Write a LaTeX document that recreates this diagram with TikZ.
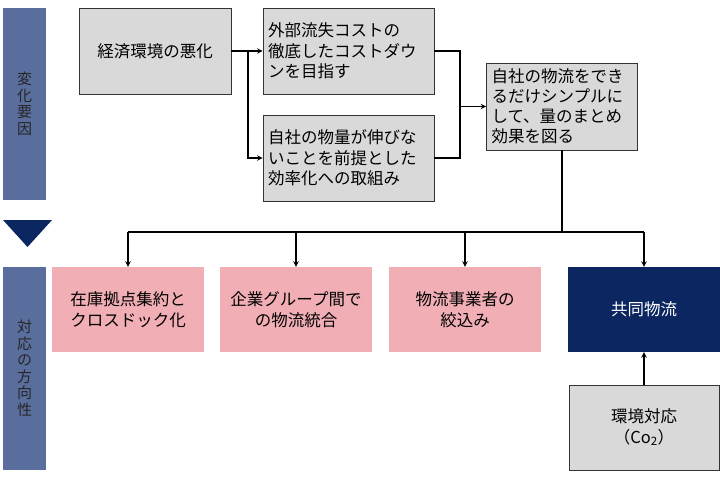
\documentclass[tikz,border=0pt]{standalone}
\usepackage{fontspec}
\setmainfont{Noto Sans CJK JP}
\usetikzlibrary{arrows}

\definecolor{barblue}{HTML}{5A6E9E}
\definecolor{navyblue}{HTML}{0B2660}
\definecolor{pinkfill}{HTML}{F1AFB5}
\definecolor{grayfill}{HTML}{D9D9D9}

\begin{document}
\begin{tikzpicture}[x=1pt, y=-1pt, >=stealth,
    sidebar/.style={fill=barblue, text=black!85, minimum width=43pt, align=center,
        font=\fontsize{15}{16.5}\selectfont},
    causebox/.style={draw=black!80, line width=0.8pt, fill=grayfill, minimum height=86pt,
        inner xsep=5pt, align=left, font=\fontsize{16.5}{20.5}\selectfont},
    actbox/.style={fill=pinkfill, minimum width=152pt, minimum height=85pt, align=center,
        font=\fontsize{16.5}{20.5}\selectfont},
    link/.style={line width=1.4pt}]
    \useasboundingbox (0,0) rectangle (720,480);

    % 左側の帯
    \node[sidebar, minimum height=192pt] (upper) at (24.5,104) {変\\化\\要\\因};
    \fill[navyblue] (3,220) -- (52,220) -- (27.5,247) -- cycle;
    \node[sidebar, minimum height=203pt] (lower) at (24.5,368.5) {対\\応\\の\\方\\向\\性};

    % 変化要因
    \node[causebox, minimum width=152pt, align=center] (econ) at (155,51) {経済環境の悪化};
    \node[causebox, text width=161pt] (cost) at (348.5,51) {外部流失コストの\\徹底したコストダウ\\ンを目指す};
    \node[causebox, text width=161pt] (volume) at (348.5,158) {自社の物量が伸びな\\いことを前提とした\\効率化への取組み};
    \node[causebox, text width=141pt, minimum height=87pt, font=\fontsize{16.5}{20}\selectfont] (simple) at (562,106.5)
        {自社の物流をでき\\るだけシンプルに\\して、量のまとめ\\効果を図る};

    % 対応の方向性
    \node[actbox] (stock) at (128,309.5) {在庫拠点集約と\\クロスドック化};
    \node[actbox] (group) at (296,309.5) {企業グループ間で\\の物流統合};
    \node[actbox] (carrier) at (465,309.5) {物流事業者の\\絞込み};
    \node[actbox, fill=navyblue, text=white] (joint) at (644,309.5) {共同物流};
    \node[causebox, minimum width=150pt, minimum height=85pt, align=center] (env) at (644,427.5)
        {環境対応\\（Co\textsubscript{2}）};

    % 連結線
    \coordinate (split) at (248,51);
    \coordinate (merge) at (460,106.5);
    \coordinate (bus) at (562,232);
    \draw[link, ->] (econ) -- (cost);
    \draw[link, ->] (split) |- (volume);
    \draw[link] (cost) -| (merge);
    \draw[link] (volume) -| (merge);
    \draw[link, ->] (merge) -- (simple);
    \draw[link] (simple.south) -- (bus);
    \draw[link] (stock.north |- bus) -- (joint.north |- bus);
    \foreach \n in {stock, group, carrier, joint}
        \draw[link, ->] (\n.north |- bus) -- (\n.north);
    \draw[link, ->] (env) -- (joint);

\end{tikzpicture}
\end{document}
